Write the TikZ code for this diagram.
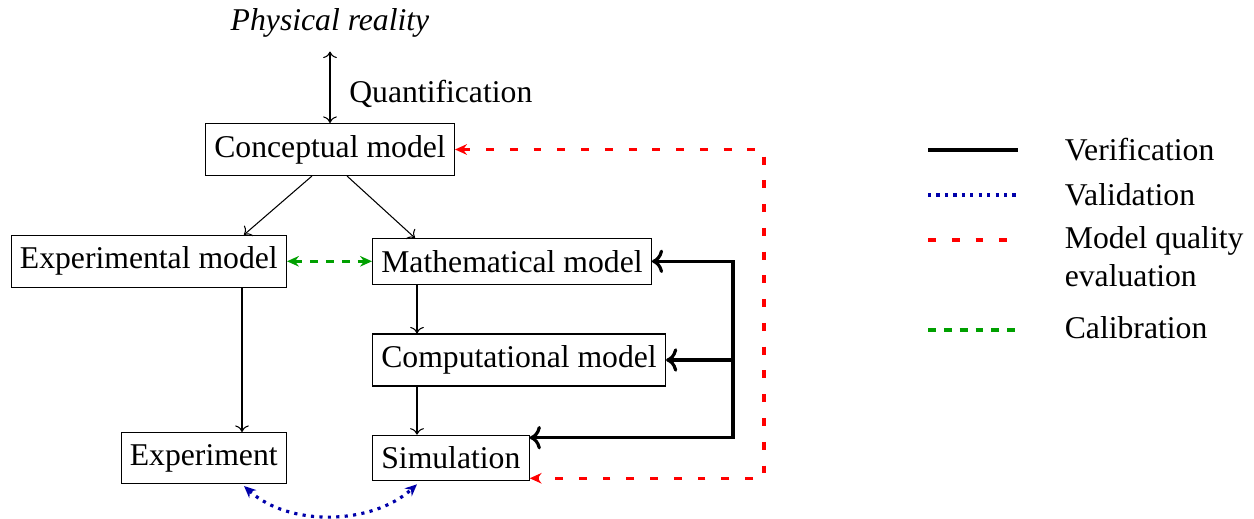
\documentclass[tikz,border=0pt]{standalone}
\usepackage{fontspec}
\setmainfont{Liberation Serif}
\usetikzlibrary{calc,arrows.meta}
\definecolor{calibgreen}{RGB}{0,160,0}
\definecolor{validblue}{RGB}{0,0,170}
\begin{document}
\begin{tikzpicture}[x=0.3788pt,y=-0.3788pt,
  every node/.style={font=\fontsize{12}{14.4}\selectfont},
  box/.style={draw, line width=0.4pt, inner xsep=0.3333em, inner ysep=4.4pt},
  flow/.style={->, line width=0.4pt},
  tip/.style={>={Stealth[length=4.5pt,width=4pt]}},
  verifline/.style={line width=1.2pt, black},
  validline/.style={line width=1.2pt, dotted, validblue},
  mqeline/.style={line width=1.2pt, dash pattern=on 3pt off 6pt, red},
  calibline/.style={line width=1.2pt, dash pattern=on 3pt off 3pt, calibgreen},
  legendtext/.style={anchor=base west, align=left},
]
\useasboundingbox (0,0) rectangle (1254,519);

% model hierarchy
\node (phys) at (330,22.5) {\itshape Physical reality};
\node[anchor=west] (quant) at (340,93.5) {Quantification};
\node[box] (concept) at (330,149.5) {Conceptual model};
\node[box,anchor=east] (exp) at (287,261.3) {Experimental model};
\node[box,anchor=west] (math) at (372,261.3) {Mathematical model};
\node[box,anchor=west] (comp) at (372,360) {Computational model};
\node[box,anchor=west] (sim) at (372,458) {Simulation};
\node[box,anchor=east] (experiment) at (287,458) {Experiment};

% thin flow arrows
\draw[<->, line width=0.4pt, shorten <=2pt] (phys) -- (concept);
\draw[flow] ($(concept.south)+(-18,0)$) -- ($(exp.north east)+(-43,0)$);
\draw[flow] ($(concept.south)+(17,0)$) -- ($(math.north west)+(43,0)$);
\draw[flow] ($(exp.south east)+(-45,0)$) -- ($(experiment.north east)+(-45,0)$);
\draw[flow] ($(math.south west)+(45,0)$) -- ($(comp.north west)+(45,0)$);
\draw[flow] ($(comp.south west)+(45,0)$) -- ($(sim.north west)+(45,0)$);

% calibration
\draw[calibline, tip, <->] (exp.east) -- (math.west);

% verification bus
\coordinate (vbus) at (733,0);
\coordinate (simtop) at ($(sim.north east)+(0,3)$);
\draw[verifline, <->] (simtop) -- (vbus |- simtop) |- (math.east);
\draw[verifline, ->] (vbus |- comp.east) -- (comp.east);

% model quality evaluation loop
\coordinate (rbus) at (764,0);
\coordinate (simbot) at ($(sim.south east)+(0,-3)$);
\draw[mqeline, tip, <->] (concept.east) -- (rbus |- concept.east) |- (simbot);

% validation
\draw[validline, tip, <->] ($(experiment.south east)+(-43,2)$)
  .. controls +(45,41) and +(-45,41) .. ($(sim.south west)+(45,3)$);

% legend
\draw[verifline] (928,150) -- (1018,150);
\draw[validline] (928,195) -- (1018,195);
\draw[mqeline] (928,240) -- (1018,240);
\draw[calibline] (928,330) -- (1018,330);
\node[legendtext] (lverif) at (1055.5,160.7) {Verification};
\node[legendtext] (lvalid) at (1055.5,206) {Validation};
\node[legendtext] (lmqe) at (1055.5,286.7) {Model quality\\evaluation};
\node[legendtext] (lcalib) at (1055.5,339) {Calibration};
\end{tikzpicture}
\end{document}
